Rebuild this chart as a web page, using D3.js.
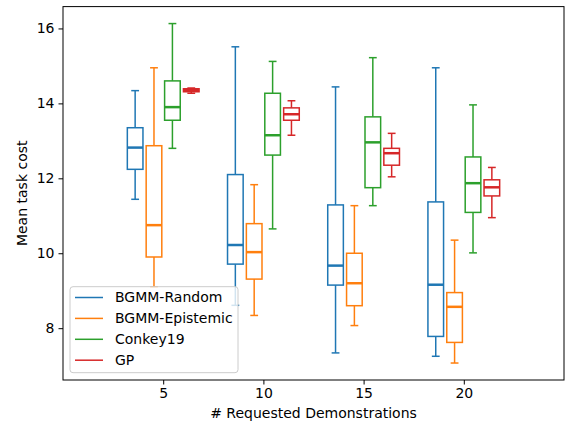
<!DOCTYPE html>
<html>
<head>
<meta charset="utf-8">
<script src="https://cdn.jsdelivr.net/npm/d3@7"></script>
<style>
  html, body { margin: 0; padding: 0; background: #fff; }
  svg { display: block; font-family: "DejaVu Sans", sans-serif; }
</style>
</head>
<body>
<svg id="chart" width="568" height="428"></svg>
<script>
// ---- data ----
const groups = [5, 10, 15, 20];
const seriesNames = ["BGMM-Random", "BGMM-Epistemic", "Conkey19", "GP"];
const seriesColors = ["#1f77b4", "#ff7f0e", "#2ca02c", "#d62728"];
// each entry: [lowerWhisker, q1, median, q3, upperWhisker] per group
const bgmmRandom = [
  [11.44, 12.24, 12.82, 13.35, 14.34],
  [8.61, 9.71, 10.22, 12.10, 15.51],
  [7.34, 9.15, 9.67, 11.29, 14.44],
  [7.25, 7.78, 9.16, 11.37, 14.95]
];
const bgmmEpistemic = [
  [9.10, 9.90, 10.75, 12.87, 14.95],
  [8.34, 9.31, 10.03, 10.79, 11.83],
  [8.07, 8.60, 9.20, 10.00, 11.27],
  [7.07, 7.62, 8.57, 8.95, 10.35]
];
const conkey19 = [
  [12.80, 13.55, 13.90, 14.60, 16.13],
  [10.65, 12.62, 13.15, 14.27, 15.12],
  [11.27, 11.75, 12.96, 13.64, 15.22],
  [10.01, 11.09, 11.87, 12.57, 13.96]
];
const gp = [
  [14.27, 14.31, 14.35, 14.39, 14.41],
  [13.15, 13.55, 13.71, 13.88, 14.07],
  [12.04, 12.35, 12.67, 12.80, 13.20],
  [10.95, 11.53, 11.76, 11.96, 12.29]
];
const seriesValues = [bgmmRandom, bgmmEpistemic, conkey19, gp];
const xTicks = [5, 10, 15, 20];
const yTicks = [8, 10, 12, 14, 16];
const xLabel = "# Requested Demonstrations";
const yLabel = "Mean task cost";

// ---- layout ----
const svg = d3.select("#chart");
const mLeft = 63, mRight = 564, mTop = 6.6, mBottom = 380;
const fs = 14;
const x = d3.scaleLinear().domain([0, 25]).range([mLeft, mRight]);
const y = d3.scaleLinear().domain([6.617, 16.583]).range([mBottom, mTop]);
const offsets = [-1.4, -0.46, 0.46, 1.4];
const boxW = 0.78;

const plot = svg.append("g");

seriesValues.forEach((vals, si) => {
  const color = seriesColors[si];
  const g = plot.append("g").attr("stroke", color).attr("fill", "none");
  vals.forEach((v, gi) => {
    const cx = groups[gi] + offsets[si];
    const x0 = x(cx - boxW / 2), x1 = x(cx + boxW / 2), xc = x(cx);
    const cap0 = x(cx - boxW / 4), cap1 = x(cx + boxW / 4);
    g.append("line").attr("x1", xc).attr("x2", xc).attr("y1", y(v[0])).attr("y2", y(v[1])).attr("stroke-width", 1.5);
    g.append("line").attr("x1", xc).attr("x2", xc).attr("y1", y(v[3])).attr("y2", y(v[4])).attr("stroke-width", 1.5);
    g.append("line").attr("x1", cap0).attr("x2", cap1).attr("y1", y(v[0])).attr("y2", y(v[0])).attr("stroke-width", 1.5);
    g.append("line").attr("x1", cap0).attr("x2", cap1).attr("y1", y(v[4])).attr("y2", y(v[4])).attr("stroke-width", 1.5);
    g.append("rect").attr("x", x0).attr("y", y(v[3])).attr("width", x1 - x0).attr("height", y(v[1]) - y(v[3])).attr("stroke-width", 1.5);
    g.append("line").attr("x1", x0).attr("x2", x1).attr("y1", y(v[2])).attr("y2", y(v[2])).attr("stroke-width", 2.5);
  });
});

// ---- axes ----
const xAxis = d3.axisBottom(x).tickValues(xTicks).tickSize(4.5).tickPadding(4).tickFormat(d3.format("d"));
const yAxis = d3.axisLeft(y).tickValues(yTicks).tickSize(4.5).tickPadding(4).tickFormat(d3.format("d"));
const gx = svg.append("g").attr("transform", `translate(0,${mBottom})`).call(xAxis);
const gy = svg.append("g").attr("transform", `translate(${mLeft},0)`).call(yAxis);
[gx, gy].forEach(g => {
  g.select(".domain").remove();
  g.selectAll("text").attr("font-size", fs).attr("fill", "#000").attr("font-family", "DejaVu Sans");
  g.selectAll("line").attr("stroke", "#000").attr("stroke-width", 1);
});

svg.append("rect").attr("x", mLeft).attr("y", mTop).attr("width", mRight - mLeft).attr("height", mBottom - mTop)
  .attr("fill", "none").attr("stroke", "#000").attr("stroke-width", 1);

svg.append("text").attr("x", (mLeft + mRight) / 2).attr("y", 418).attr("text-anchor", "middle")
  .attr("font-size", fs).attr("fill", "#000").text(xLabel);
svg.append("text").attr("transform", `translate(27,${(mTop + mBottom) / 2}) rotate(-90)`).attr("text-anchor", "middle")
  .attr("font-size", fs).attr("fill", "#000").text(yLabel);

// ---- legend ----
const lg = svg.append("g");
lg.append("rect").attr("x", 70).attr("y", 286.7).attr("width", 168).attr("height", 86).attr("rx", 3)
  .attr("fill", "#fff").attr("fill-opacity", 0.8).attr("stroke", "#ccc").attr("stroke-width", 1);
seriesNames.forEach((name, i) => {
  const ly = 297.5 + i * 20.9;
  lg.append("line").attr("x1", 75).attr("x2", 103).attr("y1", ly).attr("y2", ly)
    .attr("stroke", seriesColors[i]).attr("stroke-width", 1.5);
  lg.append("text").attr("x", 115).attr("y", ly).attr("dy", "0.35em").attr("font-size", fs)
    .attr("fill", "#000").text(name);
});
</script>
</body>
</html>
